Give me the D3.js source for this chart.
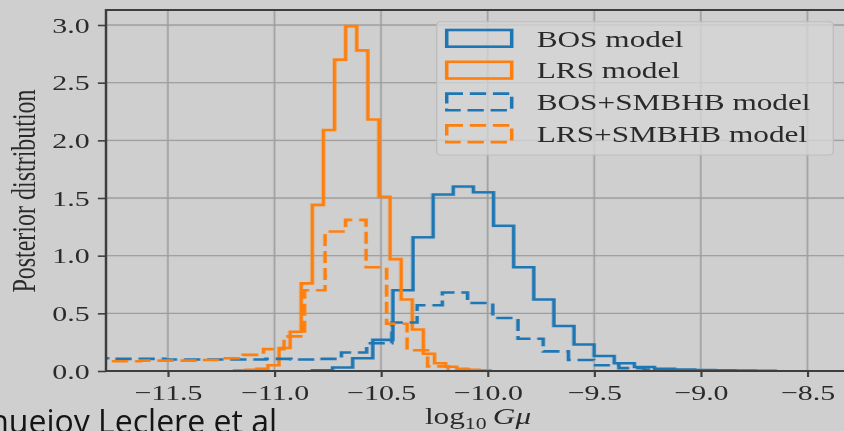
<!DOCTYPE html>
<html>
<head>
<meta charset="utf-8">
<script src="https://cdn.jsdelivr.net/npm/d3@7"></script>
<style>
  html, body { margin: 0; padding: 0; background: #cfcfcf; overflow: hidden; }
  #chart { position: relative; width: 844px; height: 431px; }
  #chart svg { position: absolute; left: 0; top: 0; }
</style>
</head>
<body>
<div id="chart"></div>
<script>
// ---- data ----
const labels = ["BOS model", "LRS model", "BOS+SMBHB model", "LRS+SMBHB model"];
const colors = ["#1f77b4", "#ff7f0e", "#1f77b4", "#ff7f0e"];

// BOS model (solid blue): first bin edge, bin width, heights
const bosStart = -10.822, bosWidth = 0.0944;
const bosHeights = [0.005, 0.03, 0.11, 0.27, 0.70, 1.16, 1.53, 1.60, 1.55, 1.26, 0.90, 0.62,
  0.39, 0.23, 0.13, 0.067, 0.035, 0.02, 0.012, 0.008, 0.005, 0.003, 0.002];

// LRS model (solid orange)
const lrsStart = -11.187, lrsWidth = 0.0521;
const lrsHeights = [0.005, 0.01, 0.02, 0.05, 0.20, 0.34, 0.76, 1.44, 2.09, 2.70, 2.99, 2.78,
  2.18, 1.51, 0.97, 0.62, 0.36, 0.15, 0.067, 0.037, 0.02, 0.01, 0.005];

// BOS+SMBHB model (dashed blue)
const bosSmbhbStart = -11.987, bosSmbhbWidth = 0.1183;
const bosSmbhbHeights = [0.11, 0.11, 0.105, 0.105, 0.10, 0.10, 0.10, 0.10, 0.105, 0.10, 0.105,
  0.16, 0.24, 0.42, 0.57, 0.68, 0.59, 0.46, 0.28, 0.17, 0.095, 0.05, 0.025, 0.012, 0.006, 0.003];

// LRS+SMBHB model (dashed orange)
const lrsSmbhbStart = -11.917, lrsSmbhbWidth = 0.0962;
const lrsSmbhbHeights = [0.085, 0.085, 0.085, 0.09, 0.09, 0.09, 0.095, 0.11, 0.14, 0.19, 0.30,
  0.70, 1.21, 1.31, 0.90, 0.41, 0.18, 0.04, 0.015, 0.005];

const xTicks = [-11.5, -11.0, -10.5, -10.0, -9.5, -9.0, -8.5];
const yTicks = [0, 0.5, 1.0, 1.5, 2.0, 2.5, 3.0];
const xDomain = [-11.79, -8.30];
const yDomain = [0, 3.13];

const series = [
  { name: labels[0], start: bosStart, width: bosWidth, heights: bosHeights, color: colors[0], dashed: false },
  { name: labels[1], start: lrsStart, width: lrsWidth, heights: lrsHeights, color: colors[1], dashed: false },
  { name: labels[2], start: bosSmbhbStart, width: bosSmbhbWidth, heights: bosSmbhbHeights, color: colors[2], dashed: true },
  { name: labels[3], start: lrsSmbhbStart, width: lrsSmbhbWidth, heights: lrsSmbhbHeights, color: colors[3], dashed: true }
];

// ---- layout: the picture is stretched horizontally, so draw in a squeezed viewBox ----
const W = 844, H = 431, K = 1.36;
const vbW = W / K;
const plot = { left: 106 / K, right: 850 / K, top: 10, bottom: 371 };
const serif = "'Liberation Serif', 'Times New Roman', serif";
const dash = "12,5";

const svg = d3.select("#chart")
  .append("svg")
  .attr("width", W)
  .attr("height", H)
  .attr("viewBox", `0 0 ${vbW} ${H}`)
  .attr("preserveAspectRatio", "none");

const defs = svg.append("defs");
defs.append("filter").attr("id", "soft")
  .attr("x", "-5%").attr("y", "-5%").attr("width", "110%").attr("height", "110%")
  .append("feGaussianBlur").attr("stdDeviation", 0.55);
defs.append("clipPath").attr("id", "plotclip")
  .append("rect")
  .attr("x", plot.left).attr("y", plot.top)
  .attr("width", plot.right - plot.left).attr("height", plot.bottom - plot.top);

const root = svg.append("g").attr("filter", "url(#soft)");

const x = d3.scaleLinear().domain(xDomain).range([plot.left, plot.right]);
const y = d3.scaleLinear().domain(yDomain).range([plot.bottom, plot.top]);

// grid
root.append("g")
  .selectAll("line")
  .data(xTicks)
  .join("line")
  .attr("x1", d => x(d)).attr("x2", d => x(d))
  .attr("y1", plot.top).attr("y2", plot.bottom)
  .attr("stroke", "#9d9d9d").attr("stroke-width", 1.2);
root.append("g")
  .selectAll("line")
  .data(yTicks)
  .join("line")
  .attr("x1", plot.left).attr("x2", plot.right)
  .attr("y1", d => y(d)).attr("y2", d => y(d))
  .attr("stroke", "#9d9d9d").attr("stroke-width", 1.3);

// step histograms, like matplotlib histtype='step'
function stepPath(s) {
  const pts = [[x(s.start), y(0)]];
  s.heights.forEach((h, i) => {
    const x0 = s.start + i * s.width;
    pts.push([x(x0), y(h)], [x(x0 + s.width), y(h)]);
  });
  pts.push([x(s.start + s.heights.length * s.width), y(0)]);
  return d3.line()(pts);
}

root.append("g")
  .attr("clip-path", "url(#plotclip)")
  .selectAll("path")
  .data(series)
  .join("path")
  .attr("d", stepPath)
  .attr("fill", "none")
  .attr("stroke", d => d.color)
  .attr("stroke-width", 2.6)
  .attr("stroke-linejoin", "miter")
  .attr("stroke-dasharray", d => d.dashed ? dash : null);

// axes
const fmt = d3.format(".1f");
const xAxis = root.append("g")
  .attr("transform", `translate(0,${plot.bottom})`)
  .call(d3.axisBottom(x).tickValues(xTicks).tickFormat(fmt).tickSize(6).tickPadding(7.5));
const yAxis = root.append("g")
  .attr("transform", `translate(${plot.left},0)`)
  .call(d3.axisLeft(y).tickValues(yTicks).tickFormat(fmt).tickSize(6).tickPadding(6));

[xAxis, yAxis].forEach(a => {
  a.select(".domain").remove();
  a.attr("font-family", serif).attr("font-size", 22);
  a.selectAll("line").attr("stroke", "#404040").attr("stroke-width", 1.6);
  a.selectAll("text").attr("fill", "#2b2b2b");
});

// spines: left, bottom, top
root.append("path")
  .attr("d", d3.line()([[plot.right, plot.top], [plot.left, plot.top], [plot.left, plot.bottom], [plot.right, plot.bottom]]))
  .attr("fill", "none")
  .attr("stroke", "#3c3c3c")
  .attr("stroke-width", 1.8);

// axis titles
const xLabel = root.append("text")
  .attr("x", (plot.left + plot.right) / 2)
  .attr("y", 424)
  .attr("text-anchor", "middle")
  .attr("font-family", serif)
  .attr("font-size", 23)
  .attr("fill", "#2b2b2b");
xLabel.append("tspan").text("log");
xLabel.append("tspan").attr("font-size", 16).attr("dy", 5).text("10");
xLabel.append("tspan").attr("dy", -5).text("\u2009");
xLabel.append("tspan").attr("font-style", "italic").text("G\u03bc");

root.append("text")
  .attr("transform", `translate(${35.5 / K},191) rotate(-90)`)
  .attr("text-anchor", "middle")
  .attr("font-family", serif)
  .attr("font-size", 24)
  .attr("fill", "#2b2b2b")
  .text("Posterior distribution");

// legend
const legend = root.append("g");
legend.append("rect")
  .attr("x", 436.7 / K).attr("y", 21.7)
  .attr("width", (833.3 - 436.7) / K).attr("height", 133.3)
  .attr("rx", 3).attr("ry", 4)
  .attr("fill", "#d4d4d4").attr("fill-opacity", 0.8)
  .attr("stroke", "#bdbdbd").attr("stroke-width", 1);

const rows = legend.selectAll("g.row")
  .data(series)
  .join("g")
  .attr("class", "row")
  .attr("transform", (d, i) => `translate(0,${38.3 + i * 31.8})`);
rows.append("rect")
  .attr("x", 446.7 / K).attr("y", -8.3)
  .attr("width", 65 / K).attr("height", 16.7)
  .attr("fill", "none")
  .attr("stroke", d => d.color)
  .attr("stroke-width", 2.6)
  .attr("stroke-dasharray", d => d.dashed ? dash : null);
rows.append("text")
  .attr("x", 536.7 / K).attr("y", 8.2)
  .attr("font-family", serif)
  .attr("font-size", 23)
  .attr("fill", "#2b2b2b")
  .text(d => d.name);

// caption overlay (not stretched)
const cap = d3.select("#chart").append("svg").attr("width", W).attr("height", H);
cap.append("text")
  .attr("x", 277).attr("y", 433)
  .attr("text-anchor", "end")
  .attr("font-family", "'Open Sans', sans-serif")
  .attr("font-size", 32)
  .attr("fill", "#151515")
  .text("hueioy Leclere et al");
</script>
</body>
</html>
